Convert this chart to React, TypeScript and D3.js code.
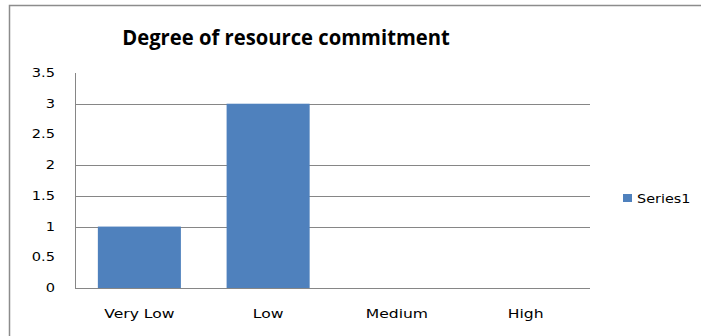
import React from "react";
import * as d3 from "d3";

const categories = ["Very Low", "Low", "Medium", "High"];
const series1 = [1, 3, 0, 0];
const yTicks = [0, 0.5, 1, 1.5, 2, 2.5, 3, 3.5];
const gridValues = [1, 1.5, 2, 3];
const title = "Degree of resource commitment";
const seriesName = "Series1";

export default function App() {
  const W = 701, H = 336;
  const left = 75, right = 590, top = 73, bottom = 288;
  const x = d3.scaleBand<string>().domain(categories).range([left, right]).paddingInner(0.355).paddingOuter(0.1775);
  const y = d3.scaleLinear().domain([0, 3.5]).range([bottom, top]);
  const axisFont = "'DejaVu Sans', Verdana, sans-serif";
  return (
    <svg width={W} height={H} style={{ position: "absolute", left: 0, top: 0, background: "#fff" }}>
      <rect x={0} y={0} width={W} height={H} fill="#fff" />
      <rect x={9.5} y={5.5} width={W + 20} height={H + 20} fill="none" stroke="#8c8c8c" strokeWidth={1.5} />
      <text transform="translate(286,45) scale(0.92,1)" textAnchor="middle" fontFamily="'Open Sans', sans-serif" fontWeight="bold" fontSize={22} fill="#000">{title}</text>
      {gridValues.map((v) => (
        <line key={v} x1={left} x2={right} y1={Math.round(y(v)) + 0.5} y2={Math.round(y(v)) + 0.5} stroke="#868686" strokeWidth={1} />
      ))}
      {categories.map((c, i) => (
        <rect key={c} x={x(c)} y={y(series1[i])} width={x.bandwidth()} height={bottom - y(series1[i])} fill="#4F81BD" />
      ))}
      <line x1={left + 0.5} x2={left + 0.5} y1={top} y2={bottom} stroke="#868686" />
      <line x1={left} x2={right} y1={bottom + 0.5} y2={bottom + 0.5} stroke="#868686" />
      {yTicks.map((t) => (
        <text key={t} transform={`translate(55,${y(t) + 4}) scale(1.27,1)`} textAnchor="end" fontFamily={axisFont} fontSize={11.5} fill="#000">{t}</text>
      ))}
      {categories.map((c) => (
        <text key={c} transform={`translate(${(x(c) as number) + x.bandwidth() / 2},318) scale(1.3,1)`} textAnchor="middle" fontFamily={axisFont} fontSize={12} fill="#000">{c}</text>
      ))}
      <rect x={623} y={194} width={9} height={8} fill="#4F81BD" />
      <text transform="translate(637,203) scale(1.2,1)" fontFamily={axisFont} fontSize={12} fill="#000">{seriesName}</text>
    </svg>
  );
}
